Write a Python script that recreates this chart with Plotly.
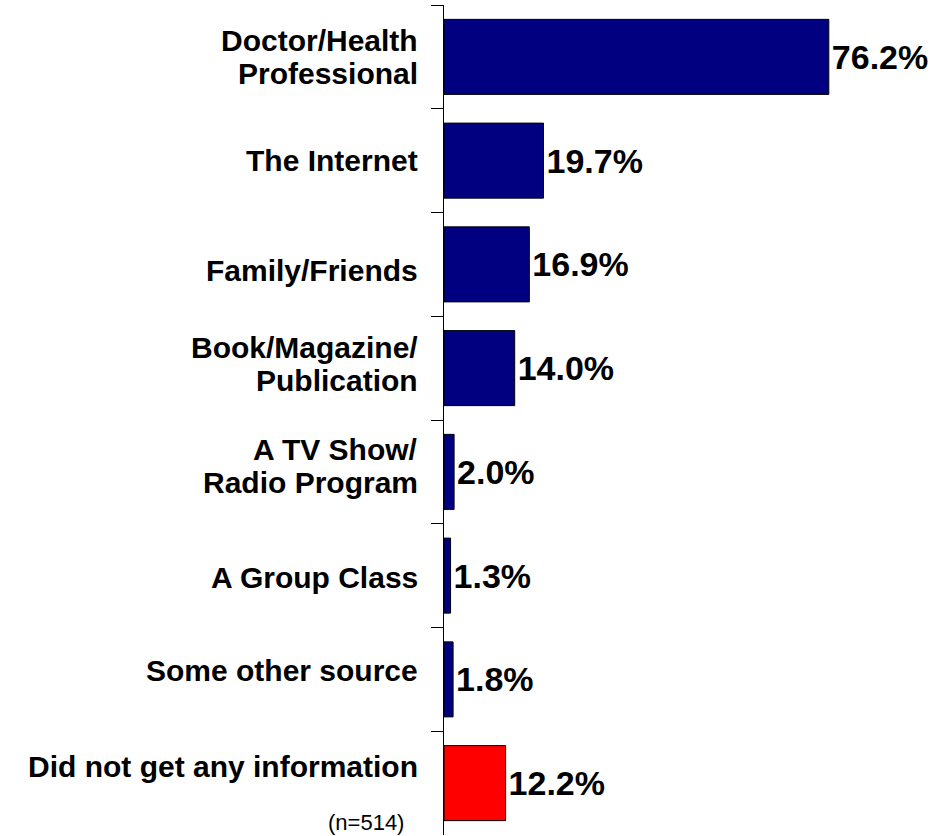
import plotly.graph_objects as go

categories = [
    "Doctor/Health<br>Professional",
    "The Internet",
    "Family/Friends",
    "Book/Magazine/<br>Publication",
    "A TV Show/<br>Radio Program",
    "A Group Class",
    "Some other source",
    "Did not get any information",
]
values = [76.2, 19.7, 16.9, 14.0, 2.0, 1.3, 1.8, 12.2]
bar_colors = ["#000080"] * 7 + ["#FF0000"]
sample_note = "(n=514)"

# label layout tweaks (pixels, positive = down)
label_offsets = [0, 0, 6, -4, -6, 2, -9, -17]
LINE_SPACING = 33
FONT = "Liberation Sans, Arial, Helvetica, sans-serif"

fig = go.Figure()
fig.add_trace(go.Bar(
    x=values,
    y=categories,
    orientation="h",
    marker=dict(color=bar_colors, line=dict(color="#000000", width=1)),
    text=[f"{v:.1f}%" for v in values],
    textposition="outside",
    textfont=dict(family=FONT, size=34, color="#000000", weight="bold"),
    constraintext="none",
    cliponaxis=False,
    hoverinfo="skip",
))

annotations = []
for lab, off in zip(categories, label_offsets):
    lines = lab.split("<br>")
    n = len(lines)
    for j, line in enumerate(lines):
        dy = off + (j - (n - 1) / 2) * LINE_SPACING
        annotations.append(dict(
            x=0, xref="paper", y=lab, yref="y",
            xanchor="right", yanchor="middle",
            xshift=-24, yshift=-dy,
            text=f"<b>{line}</b>", showarrow=False,
            font=dict(family=FONT, size=30, color="#000000"),
        ))
annotations.append(dict(
    x=0, xref="paper", y=categories[-1], yref="y",
    xanchor="right", yanchor="middle",
    xshift=-38, yshift=-39,
    text=sample_note, showarrow=False,
    font=dict(family=FONT, size=22, color="#000000"),
))

fig.update_layout(
    width=952, height=836,
    margin=dict(l=444, r=3, t=5, b=1),
    paper_bgcolor="white", plot_bgcolor="white",
    showlegend=False,
    bargap=0.277,
    annotations=annotations,
    xaxis=dict(range=[0, 100], visible=False, fixedrange=True),
    yaxis=dict(
        type="category",
        categoryorder="array", categoryarray=categories,
        autorange="reversed",
        tickson="boundaries", ticks="outside", ticklen=12,
        tickcolor="#000000", tickwidth=1,
        showline=True, linecolor="#000000", linewidth=1,
        showgrid=False, zeroline=False, showticklabels=False,
        fixedrange=True,
    ),
)

fig.write_html("out.html", config={"displayModeBar": False},
               post_script="document.body.style.margin='0';")
